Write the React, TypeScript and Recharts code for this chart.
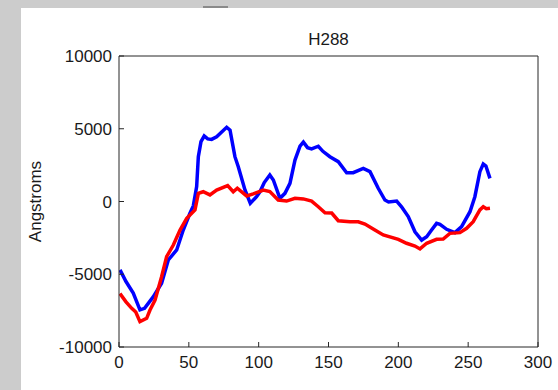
import { LineChart, Line, XAxis, YAxis, Label } from 'recharts';

const xTicks = [0, 50, 100, 150, 200, 250, 300];
const yTicks = [-10000, -5000, 0, 5000, 10000];

// blue trace (mm, Angstroms)
const blueMm = [0.7, 5, 10.2, 15, 18.3, 24.6, 30.5, 35.3, 41.3, 46, 50.8, 53.2, 55.6, 56.8, 58.7, 61, 63.5, 66.3, 69.9, 77.1, 79.5, 83, 85.4, 90.2, 94, 98.5, 101, 104, 108, 110.5, 115.2, 118.8, 122.4, 126, 129.6, 132, 135, 137.9, 142.7, 146, 151, 157, 163, 167.7, 174.9, 179.7, 185.6, 190.4, 193, 198.8, 202.3, 207.1, 211.9, 216.7, 220.3, 223.8, 227.4, 229.8, 234.6, 240.5, 245.3, 251.3, 254.8, 258.4, 260.8, 262.7, 265.6];
const blueVal = [-4700, -5500, -6300, -7450, -7340, -6540, -5620, -4020, -3330, -1960, -810, -300, 1020, 3080, 4110, 4500, 4300, 4270, 4450, 5100, 4900, 3080, 2390, 790, -120, 330, 680, 1300, 1820, 1480, 220, 560, 1250, 2850, 3810, 4080, 3700, 3620, 3800, 3450, 3080, 2740, 1980, 1980, 2280, 2050, 910, 100, -30, 30, -360, -1040, -2080, -2650, -2420, -1960, -1500, -1570, -1910, -2140, -1730, -700, 330, 2050, 2580, 2440, 1590];

// red trace (mm, Angstroms)
const redMm = [0.7, 5, 9.1, 12, 15, 19.8, 22.2, 25.8, 30.5, 34.1, 38.9, 43.7, 48.5, 54.4, 56.8, 60.3, 65.1, 69.9, 77.8, 81.8, 84.7, 91.4, 96.1, 103.3, 108, 114, 120, 126, 132, 137.9, 142.7, 147.5, 152.3, 157, 165.4, 171.3, 176.1, 183.2, 189.2, 200, 205.9, 211.9, 215.5, 220.3, 227.4, 232.1, 236.9, 244.1, 248.9, 253.6, 258.4, 260.8, 263, 265.6];
const redVal = [-6330, -6900, -7340, -7600, -8260, -8030, -7460, -6770, -5170, -3790, -2990, -1960, -1160, -580, 560, 670, 450, 790, 1090, 670, 910, 380, 520, 790, 680, 100, 30, 220, 180, 30, -360, -770, -790, -1320, -1390, -1390, -1550, -1960, -2300, -2600, -2870, -3060, -3260, -2870, -2600, -2580, -2190, -2140, -1840, -1390, -580, -360, -500, -470];

const blueData = blueMm.map((mm, i) => ({ mm, v: blueVal[i] }));
const redData = redMm.map((mm, i) => ({ mm, v: redVal[i] }));

const FONT = '"Liberation Sans", Arial, sans-serif';
const INK = '#1a1a1a';
const AXIS = '#262626';
const tickStyle = { fill: INK, fontSize: 17, fontFamily: FONT };

export default function App() {
  return (
    <div style={{ position: 'absolute', left: 0, top: 0, width: 558, height: 390, background: '#cccccc', overflow: 'hidden' }}>
      <div style={{ position: 'absolute', left: 21, top: 8, width: 537, height: 382, background: '#ffffff' }} />
      <div style={{ position: 'absolute', left: 203, top: 6, width: 25, height: 2, background: '#8a8a8a' }} />
      <div style={{ position: 'absolute', left: 0, top: 0 }}>
        <LineChart width={558} height={390} margin={{ top: 55, right: 19, bottom: 0, left: 0 }}>
          <XAxis
            xAxisId="bottom"
            type="number"
            dataKey="mm"
            domain={[0, 300]}
            ticks={xTicks}
            height={43}
            tickSize={-5}
            tickMargin={14}
            tick={tickStyle}
            stroke={AXIS}
            allowDataOverflow
          >
            <Label value="mm" position="insideTop" offset={40} style={{ fill: INK, fontSize: 17, fontFamily: FONT }} />
          </XAxis>
          <XAxis
            xAxisId="top"
            orientation="top"
            type="number"
            dataKey="mm"
            domain={[0, 300]}
            ticks={xTicks}
            height={1}
            tickSize={-5}
            tick={false}
            stroke={AXIS}
            allowDataOverflow
          >
            <Label value="H288" position="top" offset={10} style={{ fill: INK, fontSize: 17, fontFamily: FONT }} />
          </XAxis>
          <YAxis
            yAxisId="left"
            type="number"
            domain={[-10000, 10000]}
            ticks={yTicks}
            width={119}
            tickSize={-5}
            tickMargin={12}
            tick={tickStyle}
            stroke={AXIS}
            allowDataOverflow
          >
            <Label
              value="Angstroms"
              angle={-90}
              position="insideLeft"
              offset={35}
              style={{ fill: INK, fontSize: 17, fontFamily: FONT, textAnchor: 'middle' }}
            />
          </YAxis>
          <YAxis
            yAxisId="right"
            orientation="right"
            type="number"
            domain={[-10000, 10000]}
            ticks={yTicks}
            width={1}
            tickSize={-5}
            tick={false}
            stroke={AXIS}
            allowDataOverflow
          />
          <Line
            xAxisId="bottom"
            yAxisId="left"
            data={blueData}
            dataKey="v"
            type="linear"
            stroke="#0000ff"
            strokeWidth={3.5}
            dot={false}
            isAnimationActive={false}
          />
          <Line
            xAxisId="bottom"
            yAxisId="left"
            data={redData}
            dataKey="v"
            type="linear"
            stroke="#ff0000"
            strokeWidth={3.5}
            dot={false}
            isAnimationActive={false}
          />
        </LineChart>
      </div>
    </div>
  );
}
